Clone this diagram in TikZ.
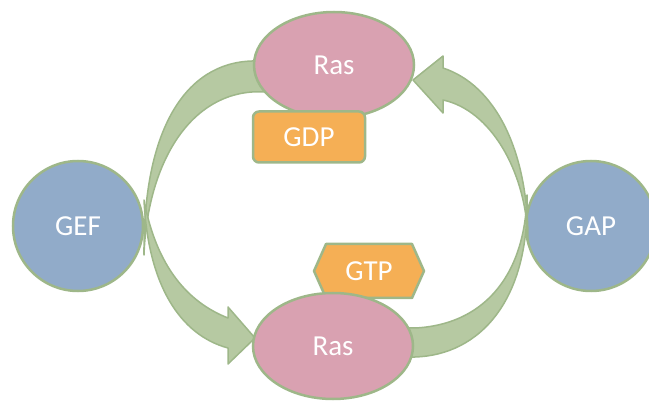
\documentclass[tikz,border=0pt]{standalone}
\usepackage{fontspec}
\setmainfont{Carlito}
\usetikzlibrary{shapes.geometric}
\definecolor{bluefill}{RGB}{145,171,201}
\definecolor{pinkfill}{RGB}{217,161,177}
\definecolor{orangefill}{RGB}{245,175,85}
\definecolor{greenfill}{RGB}{182,201,162}
\definecolor{greenedge}{RGB}{158,183,137}
\tikzset{
  lbl/.style={text=white,font=\fontsize{29}{32}\selectfont},
  enzyme/.style={circle,draw=greenedge,line width=2.5pt,fill=bluefill,minimum size=130pt,inner sep=0pt,lbl},
  ras/.style={ellipse,draw=greenedge,line width=2.5pt,fill=pinkfill,minimum width=160pt,minimum height=106pt,inner sep=0pt,lbl},
  gdpbox/.style={rectangle,rounded corners=6pt,draw=greenedge,line width=2.5pt,fill=orangefill,minimum width=112pt,minimum height=51pt,inner sep=0pt,lbl},
  hexfill/.style={draw=greenedge,line width=2.5pt,fill=orangefill,line join=round},
  bandarrow/.style={draw=greenedge,line width=1.5pt,fill=greenfill,line join=round}
}
\begin{document}
\begin{tikzpicture}[x=1pt,y=-1pt]
\useasboundingbox (0,0) rectangle (649,401);
% enzymes
\node[enzyme] (gef) at (78,226) {GEF};
\node[enzyme] (gap) at (591,226) {GAP};
% left: Ras-GDP tail band tapering to GEF
\path[bandarrow] (270,61) -- (252,61) .. controls (185,63) and (143,130) .. (144,255)
  .. controls (147,170) and (185,97) .. (252,92) -- (270,92) -- cycle;
% left: arrow from GEF to Ras-GTP
\path[bandarrow] (144,200) .. controls (148,285) and (180,335) .. (228,348)
  -- (228,364) -- (255,338) -- (228,307) -- (228,318)
  .. controls (195,305) and (158,275) .. (144,200) -- cycle;
% right: Ras-GTP tail band tapering to GAP
\path[bandarrow] (395,357) -- (415,357) .. controls (480,355) and (530,300) .. (527,195)
  .. controls (525,280) and (480,325) .. (415,328) -- (395,328) -- cycle;
% right: arrow from GAP to Ras-GDP
\path[bandarrow] (528,240) .. controls (528,150) and (495,85) .. (443,68)
  -- (443,56) -- (413,80) -- (443,113) -- (443,100)
  .. controls (490,110) and (526,170) .. (528,240) -- cycle;
% GTP hexagon (behind lower Ras)
\path[hexfill] (314,271) -- (326,244) -- (412,244) -- (424,271) -- (412,298) -- (326,298) -- cycle;
\node[lbl] (gtp) at (369,271) {GTP};
% Ras nodes
\node[ras] (rasT) at (334,65) {Ras};
\node[ras] (rasB) at (333,346) {Ras};
% GDP box (in front of upper Ras)
\node[gdpbox] (gdp) at (309,137) {GDP};
\end{tikzpicture}
\end{document}
